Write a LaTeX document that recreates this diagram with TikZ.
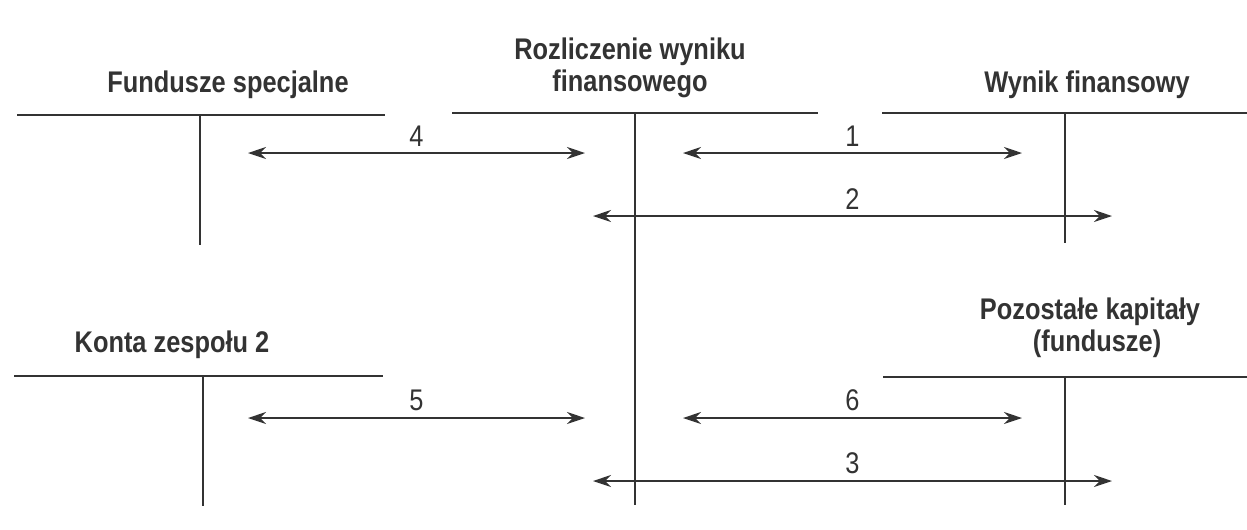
\documentclass[tikz,border=0pt]{standalone}
\usepackage{fontspec}
\setmainfont{Liberation Sans}[FakeStretch=0.85]
\usetikzlibrary{arrows.meta}

\begin{document}
\begin{tikzpicture}[x=0.02cm,y=-0.02cm,line width=1.2pt,color=black!80,
  konto/.style={font=\bfseries\fontsize{17}{18.5}\selectfont,align=center},
  nr/.style={font=\fontsize{17}{18}\selectfont,above=0pt},
  strz/.style={{Stealth[length=0.36cm,width=0.24cm]}-{Stealth[length=0.36cm,width=0.24cm]}}]
\useasboundingbox (0,0) rectangle (1247,529);
% konta (titles)
\node[konto] (fs) at (228,85) {Fundusze specjalne};
\node[konto] (rwf) at (630,68) {Rozliczenie wyniku\\finansowego};
\node[konto] (wf) at (1087,85) {Wynik finansowy};
\node[konto] (kz) at (172,345) {Konta zespołu 2};
\node[konto] (pk) at (1090,328) {Pozostałe kapitały\\\ \ (fundusze)};
% T-accounts
\draw (17,115) -- (385,115);
\draw (200,115) -- (200,245);
\draw (452,113) -- (818,113);
\draw (635,113) -- (635,505);
\draw (882,113) -- (1247,113);
\draw (1065,113) -- (1065,243);
\draw (14,376) -- (383,376);
\draw (203,376) -- (203,506);
\draw (883,377) -- (1247,377);
\draw (1065,377) -- (1065,505);
% arrows
\coordinate (s4) at (248,153); \coordinate (e4) at (585,153);
\coordinate (s1) at (683,153); \coordinate (e1) at (1022,153);
\coordinate (s2) at (593,216); \coordinate (e2) at (1112,216);
\coordinate (s5) at (248,418); \coordinate (e5) at (585,418);
\coordinate (s6) at (683,418); \coordinate (e6) at (1022,418);
\coordinate (s3) at (593,481); \coordinate (e3) at (1112,481);
\draw[strz] (s4) -- node[nr] {4} (e4);
\draw[strz] (s1) -- node[nr] {1} (e1);
\draw[strz] (s2) -- node[nr] {2} (e2);
\draw[strz] (s5) -- node[nr] {5} (e5);
\draw[strz] (s6) -- node[nr] {6} (e6);
\draw[strz] (s3) -- node[nr] {3} (e3);
\end{tikzpicture}
\end{document}
